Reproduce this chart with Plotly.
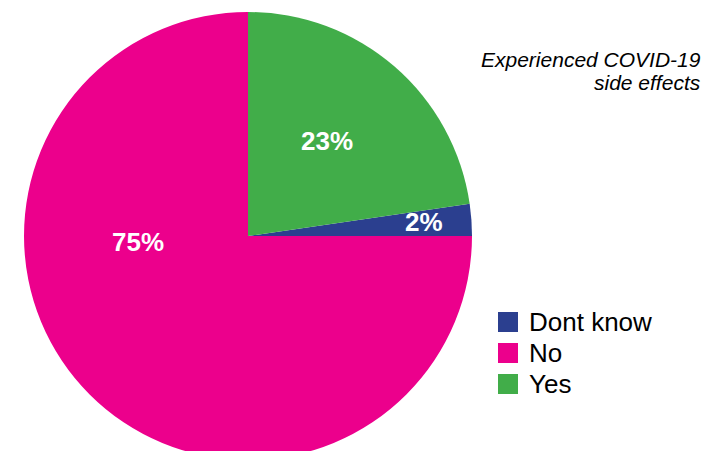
import math
import plotly.graph_objects as go

labels = ["Dont know", "No", "Yes"]
values = [2.3, 75.0, 22.7]
colors = ["#2B3F8F", "#EC008C", "#41AD49"]
title_lines = ["Experienced COVID-19", "side effects"]

W, H = 721, 460
TOP = 12
FONT = "Arial, Liberation Sans, sans-serif"
CX, CY, R = 248, 236, 224  # pie centre / radius in pixels (layout)

total = sum(values)
start_angle = 360 * values[0] / total  # first slice ends at 3 o'clock

fig = go.Figure(go.Pie(
    labels=labels, values=values, sort=False, direction="clockwise",
    rotation=90 - start_angle,
    marker=dict(colors=colors, line=dict(width=0)),
    textinfo="none",
    domain=dict(x=[(CX - R) / W, (CX + R) / W], y=[0, 1]),
    showlegend=False, hoverinfo="label+percent",
))


def px_to_paper(x, y):
    return x / W, 1 - (y - TOP) / (H - TOP)


# percentage labels (text from the data, placed inside each slice)
label_radius = [0.79, 0.49, 0.55]
label_angle_shift = [0.5, -42, 1.0]
a = start_angle
for v, rf, sh in zip(values, label_radius, label_angle_shift):
    mid = a - 180 * v / total + sh
    a -= 360 * v / total
    x = CX + rf * R * math.cos(math.radians(mid))
    y = CY - rf * R * math.sin(math.radians(mid))
    px, py = px_to_paper(x, y)
    fig.add_annotation(xref="paper", yref="paper", x=px, y=py,
                       text="<b>%d%%</b>" % round(100 * v / total), showarrow=False,
                       xanchor="center", yanchor="middle",
                       font=dict(family=FONT, size=26, color="white"))

# custom legend (large square swatches)
for i, (lab, col) in enumerate(zip(labels, colors)):
    yc = 322 + 31 * i
    x0, y0 = px_to_paper(498, yc + 10)
    x1, y1 = px_to_paper(518, yc - 10)
    fig.add_shape(type="rect", xref="paper", yref="paper",
                  x0=x0, x1=x1, y0=y0, y1=y1,
                  fillcolor=col, line=dict(width=0))
    tx, ty = px_to_paper(527, yc)
    fig.add_annotation(xref="paper", yref="paper", x=tx, y=ty,
                       text=lab, showarrow=False, xanchor="left", yanchor="middle",
                       font=dict(family=FONT, size=26, color="black"))

# chart title, right aligned, italic
for i, line in enumerate(title_lines):
    tx, ty = px_to_paper(703, 60 + 23 * i)
    fig.add_annotation(xref="paper", yref="paper", x=tx, y=ty,
                       text="<i>" + line + "</i>", showarrow=False,
                       xanchor="right", yanchor="middle", align="right",
                       font=dict(family=FONT, size=21, color="black"))

fig.update_layout(width=W, height=H, margin=dict(l=0, r=0, t=TOP, b=0),
                  paper_bgcolor="white", plot_bgcolor="white")
fig.write_html("out.html")
